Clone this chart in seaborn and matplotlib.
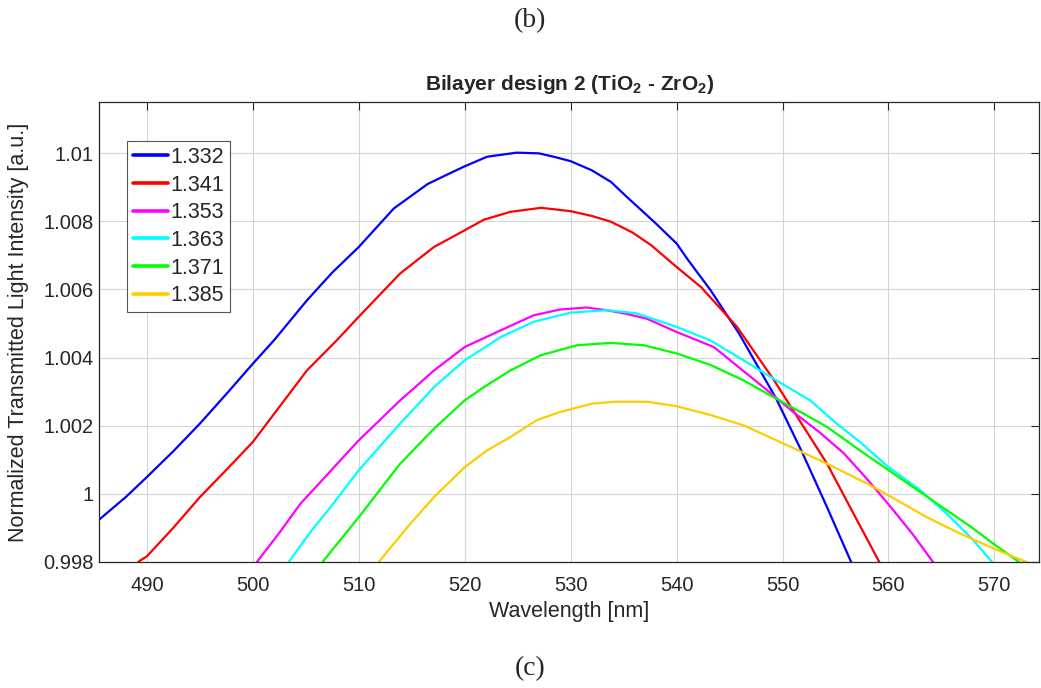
import numpy as np
import pandas as pd
import matplotlib
matplotlib.use('Agg')
import matplotlib.pyplot as plt
import seaborn as sns
from matplotlib.ticker import FuncFormatter

# refractive index of the surrounding medium -> legend labels
LABELS = ['1.332', '1.341', '1.353', '1.363', '1.371', '1.385']
COLORS = ['#0000ff', '#ff0000', '#ff00ff', '#00ffff', '#00ff00', '#ffcc00']

# wavelength [nm] / normalized intensity
wl_1332 = [485.5, 488.0, 490.0, 492.5, 495.0, 497.5, 500.0, 502.0, 505.1, 507.5, 510.0, 513.3,
           516.5, 518.5, 520.0, 522.1, 524.9, 527.0, 528.4, 530.0, 532.0, 533.8, 535.3, 538.0,
           540.0, 541.0, 543.2, 545.9, 549.4, 551.9, 554.2, 556.6]
in_1332 = [0.99924, 0.99990, 1.00049, 1.00125, 1.00206, 1.00293, 1.00382, 1.00451, 1.00568, 1.00650,
           1.00725, 1.00838, 1.00910, 1.00940, 1.00962, 1.00990, 1.01002, 1.01000, 1.00990, 1.00977,
           1.00950, 1.00916, 1.00872, 1.00795, 1.00735, 1.00690, 1.00598, 1.00470, 1.00279, 1.00118,
           0.99960, 0.99790]

wl_1341 = [489.2, 490.0, 492.5, 495.0, 497.5, 500.0, 502.5, 505.1, 507.9, 510.0, 513.9, 517.1,
           520.0, 521.8, 524.3, 527.2, 530.0, 532.0, 533.8, 535.8, 537.6, 540.0, 542.3, 545.7,
           549.2, 551.5, 554.2, 556.7, 559.2]
in_1341 = [0.99800, 0.99816, 0.99900, 0.99990, 1.00070, 1.00152, 1.00255, 1.00362, 1.00450, 1.00520,
           1.00647, 1.00725, 1.00774, 1.00805, 1.00828, 1.00840, 1.00830, 1.00816, 1.00799, 1.00768,
           1.00730, 1.00666, 1.00607, 1.00490, 1.00333, 1.00220, 1.00088, 0.99941, 0.99795]

wl_1353 = [500.4, 502.5, 504.5, 507.5, 510.0, 513.9, 517.1, 520.0, 523.4, 526.5, 529.0, 531.5,
           533.4, 535.3, 537.2, 540.0, 543.5, 546.0, 548.5, 551.0, 553.5, 555.8, 558.0, 560.2,
           562.3, 564.3]
in_1353 = [0.99800, 0.99885, 0.99971, 1.00072, 1.00157, 1.00274, 1.00362, 1.00431, 1.00480, 1.00524,
           1.00541, 1.00547, 1.00539, 1.00528, 1.00514, 1.00475, 1.00431, 1.00368, 1.00305, 1.00240,
           1.00180, 1.00118, 1.00042, 0.99961, 0.99880, 0.99795]

wl_1363 = [503.4, 505.5, 507.6, 510.0, 513.9, 517.1, 520.0, 523.4, 526.5, 530.0, 533.4, 536.2,
           540.0, 543.2, 546.3, 549.4, 552.6, 555.1, 557.3, 560.0, 563.0, 565.5, 567.8, 569.9]
in_1363 = [0.99800, 0.99890, 0.99971, 1.00069, 1.00206, 1.00313, 1.00392, 1.00460, 1.00505, 1.00532,
           1.00539, 1.00530, 1.00490, 1.00450, 1.00392, 1.00333, 1.00274, 1.00206, 1.00152, 1.00078,
           1.00010, 0.99941, 0.99870, 0.99795]

wl_1371 = [506.6, 508.2, 510.0, 513.9, 517.1, 520.0, 521.8, 524.3, 527.2, 530.6, 533.8, 536.9,
           540.0, 543.2, 546.3, 549.4, 551.8, 554.2, 557.3, 560.0, 562.1, 565.5, 567.8, 569.9,
           572.5]
in_1371 = [0.99800, 0.99862, 0.99931, 1.00088, 1.00191, 1.00274, 1.00313, 1.00362, 1.00407, 1.00436,
           1.00443, 1.00436, 1.00412, 1.00378, 1.00333, 1.00279, 1.00238, 1.00196, 1.00127, 1.00069,
           1.00024, 0.99951, 0.99902, 0.99853, 0.99795]

wl_1385 = [511.9, 514.6, 517.1, 520.0, 522.1, 524.3, 526.8, 529.0, 532.1, 534.3, 537.2, 540.0,
           543.2, 546.3, 550.1, 554.2, 558.0, 560.0, 563.6, 566.8, 569.9, 573.1]
in_1385 = [0.99800, 0.99902, 0.99990, 1.00078, 1.00127, 1.00166, 1.00216, 1.00240, 1.00265, 1.00270,
           1.00270, 1.00257, 1.00231, 1.00201, 1.00147, 1.00088, 1.00029, 0.99995, 0.99931, 0.99882,
           0.99839, 0.99798]

WAVELENGTHS = [wl_1332, wl_1341, wl_1353, wl_1363, wl_1371, wl_1385]
INTENSITIES = [in_1332, in_1341, in_1353, in_1363, in_1371, in_1385]


if __name__ == "__main__":
    # build one long table for seaborn
    frames = []
    for lab, wl, it in zip(LABELS, WAVELENGTHS, INTENSITIES):
        frames.append(pd.DataFrame({'wl': wl, 'I': it, 'n': lab}))
    df = pd.concat(frames, ignore_index=True)

    sns.set_style('white')
    plt.rcParams['font.family'] = ['Liberation Sans', 'DejaVu Sans']
    plt.rcParams['mathtext.fontset'] = 'custom'
    plt.rcParams['mathtext.rm'] = 'Liberation Sans'
    plt.rcParams['mathtext.bf'] = 'Liberation Sans:bold'
    axcol = '#262626'

    fig = plt.figure(figsize=(10.41, 6.88), dpi=100)
    ax = fig.add_axes([0.0954, 0.1836, 0.9026, 0.6677])

    sns.lineplot(data=df, x='wl', y='I', hue='n', hue_order=LABELS,
                 palette=dict(zip(LABELS, COLORS)), sort=False, estimator=None,
                 linewidth=1.6, ax=ax)

    ax.set_xlim(485.5, 574.2)
    ax.set_ylim(0.998, 1.0115)
    ax.set_xticks(np.arange(490, 571, 10))
    ax.set_yticks([0.998, 1.0, 1.002, 1.004, 1.006, 1.008, 1.01])
    ax.yaxis.set_major_formatter(FuncFormatter(lambda v, p: '%g' % round(v, 4)))
    ax.grid(True, color='#d4d4d4', linewidth=0.8)
    ax.tick_params(direction='in', length=6, width=0.8, colors=axcol,
                   labelsize=14.5, top=True, right=True, labelcolor=axcol)
    ax.tick_params(axis='x', pad=10)
    ax.tick_params(axis='y', pad=4)
    for s in ax.spines.values():
        s.set_color(axcol)
        s.set_linewidth(0.9)

    ax.set_xlabel('Wavelength [nm]', fontsize=15.5, color=axcol)
    ax.set_ylabel('Normalized Transmitted Light Intensity [a.u.]', fontsize=15.5, color=axcol)
    ax.xaxis.set_label_coords(0.5, -0.085)
    ax.yaxis.set_label_coords(-0.0745, 0.499)
    ax.set_title('Bilayer design 2 (TiO$_\\mathbf{2}$ - ZrO$_\\mathbf{2}$)', fontsize=15,
                 fontweight='bold', pad=9)

    leg = ax.legend(loc='upper left', bbox_to_anchor=(0.0295, 0.9158), borderaxespad=0,
                    fontsize=15.5, handlelength=1.6, handletextpad=0.15, labelspacing=0.31,
                    borderpad=0.28, fancybox=False, framealpha=1, edgecolor='#555555')
    leg.get_frame().set_linewidth(0.8)
    for h in leg.get_lines():
        h.set_linewidth(2.6)

    fig.text(0.509, 0.970, '(b)', ha='center', va='center', fontsize=20,
             family=['Liberation Serif', 'DejaVu Serif'])
    fig.text(0.509, 0.028, '(c)', ha='center', va='center', fontsize=20,
             family=['Liberation Serif', 'DejaVu Serif'])

    fig.savefig('out.png', dpi=100)
